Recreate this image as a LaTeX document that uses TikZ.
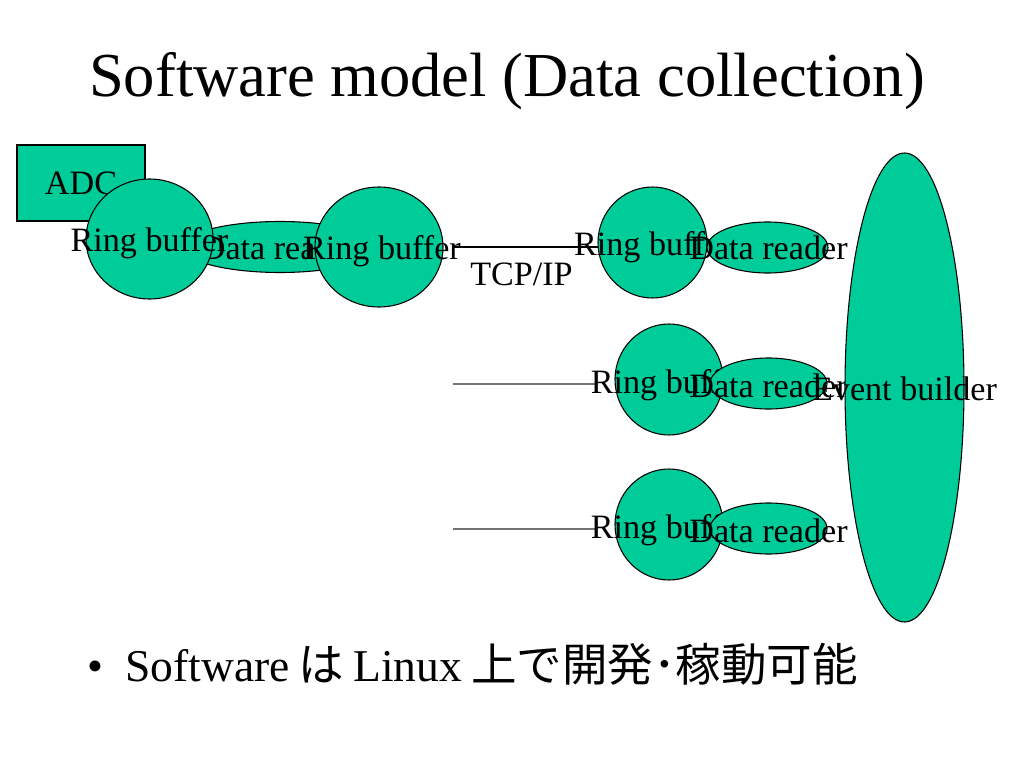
\documentclass[tikz,border=0pt]{standalone}
\usepackage{fontspec}
\setmainfont{Liberation Serif}
\newfontfamily\cjkfont{Noto Sans CJK JP}
\usetikzlibrary{shapes.geometric}
\newcommand\pxu{0.703125pt}
\definecolor{blobgreen}{RGB}{0,204,153}
\begin{document}
\begin{tikzpicture}[x=0.703125pt,y=-0.703125pt,
  shp/.style={draw=black, line width=0.75pt, fill=blobgreen, inner sep=0pt, outer sep=0pt},
  oval/.style={shp, ellipse},
  box/.style={shp, rectangle},
  lbl/.style={font=\fontsize{24}{28}\selectfont, inner sep=0pt, anchor=base},
  wire/.style={line width=0.75pt, draw=black},
  graywire/.style={line width=0.9pt, draw=black!55}
]
\fill[white] (0,0) rectangle (1024,768);
\useasboundingbox (0,0) rectangle (1024,768);

% title
\node[inner sep=0pt, anchor=base, font=\fontsize{44}{52}\selectfont] (title) at (507,97) {Software model (Data collection)};

% ADC
\node[box, minimum width=128*\pxu, minimum height=76*\pxu] (adc) at (81,183) {};
\node[lbl] (adct) at (81,195) {ADC};

% left data reader (under the two ring buffers)
\node[oval, minimum width=196*\pxu, minimum height=51*\pxu] (dr1) at (280,247) {};
\node[lbl] (dr1t) at (280,260) {Data reader};

% ring buffer 1
\node[oval, minimum width=127*\pxu, minimum height=120*\pxu] (rb1) at (149.5,239) {};
\node[lbl] (rb1t) at (149.5,252) {Ring buffer};

% ring buffer 2
\node[oval, minimum width=128*\pxu, minimum height=120*\pxu] (rb2) at (379,247) {};
\node[lbl] (rb2t) at (382,260) {Ring buffer};

% TCP/IP link
\coordinate (l1s) at (453,247);
\coordinate (l1e) at (598,247);
\draw[wire] (l1s) -- (l1e);
\node[lbl] (tcp) at (521.5,285) {TCP/IP};

% row 1 right
\node[oval, minimum width=109*\pxu, minimum height=111*\pxu] (rb3) at (652.5,242.5) {};
\node[lbl] (rb3t) at (653,256) {Ring buffer};
\node[oval, minimum width=121*\pxu, minimum height=51*\pxu] (dr3) at (767.5,247.5) {};
\node[lbl] (dr3t) at (768.5,260) {Data reader};

% row 2 and 3 links
\coordinate (l2s) at (453,384);
\coordinate (l2e) at (597,384);
\coordinate (l3s) at (453,529);
\coordinate (l3e) at (597,529);
\draw[graywire] (l2s) -- (l2e);
\draw[graywire] (l3s) -- (l3e);

% row 2
\node[oval, minimum width=108*\pxu, minimum height=111*\pxu] (rb4) at (669,379.5) {};
\node[lbl] (rb4t) at (669.7,393) {Ring buffer};
\node[oval, minimum width=117*\pxu, minimum height=51*\pxu] (dr4) at (768.5,383.5) {};
\node[lbl] (dr4t) at (768.5,397) {Data reader};

% row 3
\node[oval, minimum width=108*\pxu, minimum height=111*\pxu] (rb5) at (669,524.5) {};
\node[lbl] (rb5t) at (669.7,538) {Ring buffer};
\node[oval, minimum width=117*\pxu, minimum height=51*\pxu] (dr5) at (768.5,528.5) {};
\node[lbl] (dr5t) at (768.5,542) {Data reader};

% event builder
\node[oval, minimum width=119*\pxu, minimum height=469*\pxu] (eb) at (904.5,387.5) {};
\node[lbl] (ebt) at (904.5,400) {Event builder};

% bullet line
\node[inner sep=0pt, anchor=base, font=\fontsize{32}{38}\selectfont] (bul) at (95,681) {•};
\node[inner sep=0pt, anchor=base west, font=\fontsize{32}{38}\selectfont] (btext) at (125,681)
  {Software\hspace{0.2em}{\cjkfont は}\hspace{0.2em}Linux\hspace{0.2em}{\cjkfont 上で開発･稼動可能}};
\end{tikzpicture}
\end{document}
